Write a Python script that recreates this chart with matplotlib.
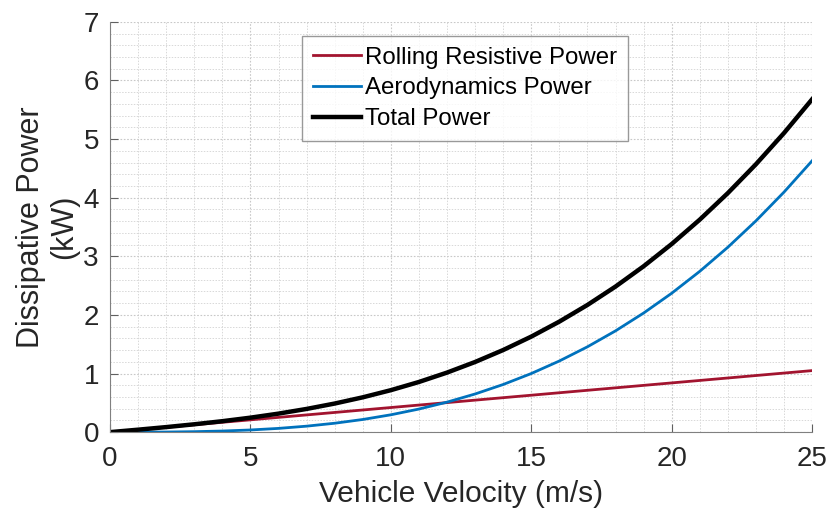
import numpy as np
import matplotlib.pyplot as plt

plt.rcParams['font.family'] = ['Liberation Sans', 'DejaVu Sans']

velocity = list(range(0, 26))
rolling_kw = [0.000, 0.042, 0.084, 0.126, 0.168, 0.210, 0.252, 0.294, 0.336, 0.378,
              0.420, 0.462, 0.504, 0.546, 0.588, 0.630, 0.672, 0.714, 0.756, 0.798,
              0.840, 0.882, 0.924, 0.966, 1.008, 1.050]
aero_kw = [0.000, 0.000, 0.002, 0.008, 0.019, 0.037, 0.064, 0.102, 0.152, 0.216,
           0.296, 0.394, 0.512, 0.651, 0.813, 1.000, 1.214, 1.456, 1.728, 2.032,
           2.370, 2.744, 3.155, 3.605, 4.096, 4.630]
total_kw = [0.000, 0.042, 0.086, 0.134, 0.187, 0.247, 0.316, 0.396, 0.488, 0.594,
            0.716, 0.856, 1.016, 1.197, 1.401, 1.630, 1.886, 2.170, 2.484, 2.830,
            3.210, 3.626, 4.079, 4.571, 5.104, 5.680]

fig = plt.figure(figsize=(8.27, 5.09), dpi=100)
ax = fig.add_axes([0.133, 0.151, 0.849, 0.806])

ax.plot(velocity, rolling_kw, color='#A2142F', lw=2.0, label='Rolling Resistive Power')
ax.plot(velocity, aero_kw, color='#0072BD', lw=2.0, label='Aerodynamics Power')
ax.plot(velocity, total_kw, color='black', lw=3.2, label='Total Power')

ax.set_xlim(0, 25)
ax.set_ylim(0, 7)
ax.set_xticks([0, 5, 10, 15, 20, 25])
ax.set_yticks(range(0, 8))
ax.set_xticks(np.arange(0, 26, 1), minor=True)
ax.set_yticks(np.arange(0, 7.01, 0.2), minor=True)

ax.grid(which='major', color='#c8c8c8', ls=(0, (1.5, 1.5)), lw=0.8)
ax.grid(which='minor', color='#d8d8d8', ls=(0, (1.5, 1.5)), lw=0.7)
ax.set_axisbelow(True)

for s in ['top', 'right']:
    ax.spines[s].set_visible(False)
for s in ['left', 'bottom']:
    ax.spines[s].set_color('#808080')
ax.tick_params(which='major', direction='in', length=6, color='#606060',
               labelsize=20, labelcolor='#262626')
ax.tick_params(axis='x', which='major', pad=10)
ax.tick_params(axis='y', which='major', pad=8)
ax.tick_params(which='minor', length=0)

ax.set_xlabel('Vehicle Velocity (m/s)', fontsize=21.5, color='#262626', labelpad=6)
ax.set_ylabel('Dissipative Power\n(kW)', fontsize=22, color='#262626', labelpad=3,
              linespacing=1.15)

leg = ax.legend(loc='upper left', bbox_to_anchor=(0.274, 0.966), fontsize=17.3,
                frameon=True, fancybox=False, edgecolor='#808080',
                handlelength=2.0, handletextpad=0.15, borderpad=0.45,
                labelspacing=0.36, borderaxespad=0)
leg.get_frame().set_linewidth(1.0)

fig.savefig('out.png', dpi=100)
